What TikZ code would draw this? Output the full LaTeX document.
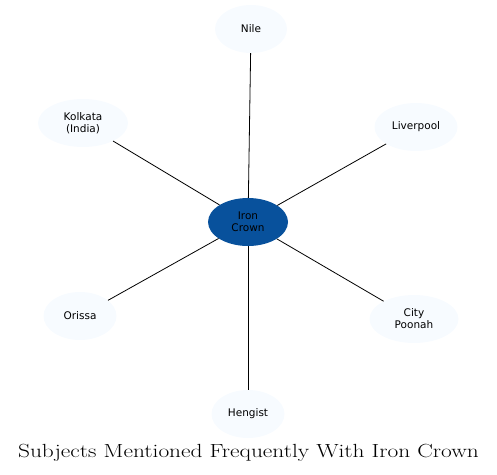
\documentclass[tikz,border=0pt]{standalone}
\usepackage{fontspec}
\newfontfamily\nodefont{DejaVu Sans}
\usepackage{graphicx}
\usepackage{xcolor}
\usepackage{tikz}
\definecolor{hubblue}{HTML}{08519C}
\definecolor{leafblue}{HTML}{F7FBFF}
\tikzset{
  hub/.style={ellipse, fill=hubblue, minimum width=80pt, minimum height=48pt, inner sep=0pt, align=center, font=\nodefont\fontsize{10.5}{12}\selectfont},
  leaf/.style={ellipse, fill=leafblue, minimum height=48pt, inner sep=0pt, align=center, font=\nodefont\fontsize{10.5}{12}\selectfont},
  spoke/.style={black, line width=0.8pt}
}
\usetikzlibrary{shapes.geometric}
\begin{document}
\begin{tikzpicture}[x=1pt,y=-1pt]
\useasboundingbox (0,0) rectangle (497,474);
\node[hub] (iron) at (248,222) {Iron\\Crown};

\node[leaf, minimum width=72pt] (nile) at (251,29) {Nile};
\node[leaf, minimum width=90pt] (kolkata) at (83,123) {Kolkata\\(India)};
\node[leaf, minimum width=83pt] (liverpool) at (416,127) {Liverpool};
\node[leaf, minimum width=73pt] (orissa) at (80,316) {Orissa};
\node[leaf, minimum width=89pt] (poonah) at (414,319) {City\\Poonah};
\node[leaf, minimum width=73pt] (hengist) at (248,414) {Hengist};

\foreach \n in {nile,kolkata,liverpool,orissa,poonah,hengist}
  \draw[spoke] (iron) -- (\n);

\node (title) at (248.5,453) {\scalebox{1.23}[1]{\fontsize{19}{22}\selectfont Subjects Mentioned Frequently With Iron Crown}};
\end{tikzpicture}
\end{document}
